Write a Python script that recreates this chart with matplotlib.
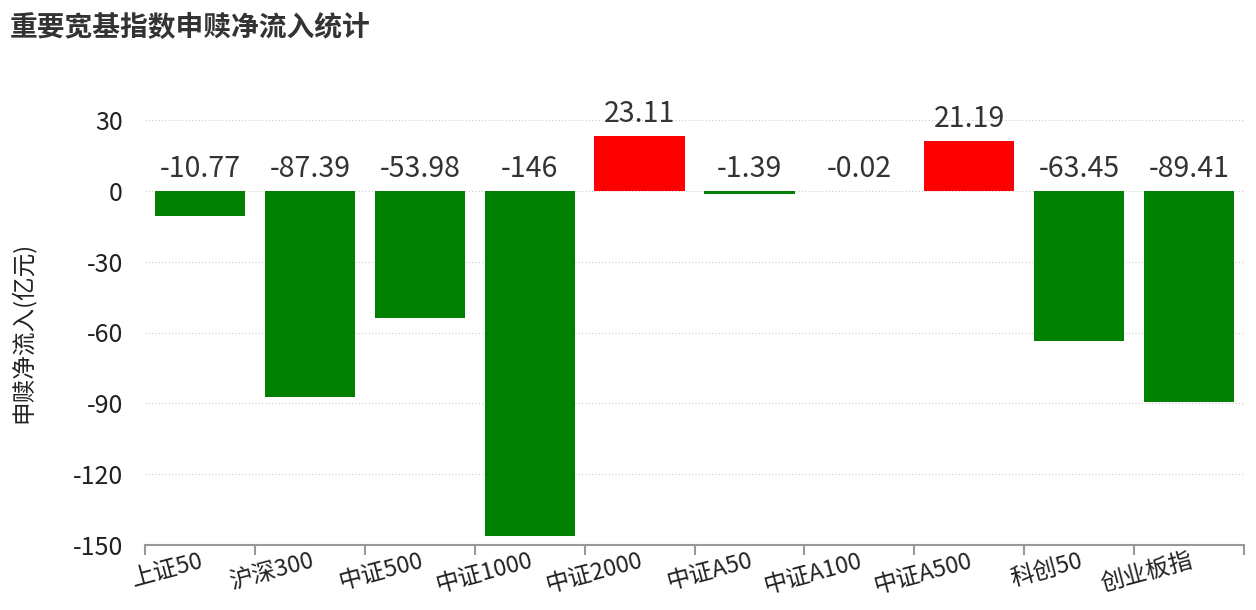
import matplotlib
matplotlib.use("Agg")
import matplotlib.pyplot as plt
import numpy as np

plt.rcParams['font.family'] = ['Noto Sans CJK SC', 'DejaVu Sans']
plt.rcParams['axes.unicode_minus'] = False

categories = ["上证50", "沪深300", "中证500", "中证1000", "中证2000", "中证A50", "中证A100", "中证A500", "科创50", "创业板指"]
values = [-10.77, -87.39, -53.98, -146, 23.11, -1.39, -0.02, 21.19, -63.45, -89.41]
labels = ["-10.77", "-87.39", "-53.98", "-146", "23.11", "-1.39", "-0.02", "21.19", "-63.45", "-89.41"]
yticks = [30, 0, -30, -60, -90, -120, -150]

fig = plt.figure(figsize=(12.56, 6.10), dpi=100)
ax = fig.add_axes([145/1256, 1-545/610, (1244-145)/1256, (545-120)/610])

x = np.arange(len(categories))
colors = ['#ff0000' if v > 0 else '#008000' for v in values]
ax.bar(x, values, width=0.82, color=colors, zorder=3)

for xi, v, lab in zip(x, values, labels):
    ypos = max(v, 0)
    ax.text(xi, ypos + 3, lab, ha='center', va='bottom', fontsize=20.5, color='#333333', clip_on=False)

ax.set_xlim(-0.5, len(categories) - 0.5)
ax.set_ylim(-150, 30)
ax.set_yticks(yticks)
ax.set_yticklabels([str(t) for t in yticks], fontsize=18, color='#222222')
ax.yaxis.grid(True, linestyle=(0, (1, 2)), color='#cccccc', linewidth=0.8, zorder=0)
ax.tick_params(axis='y', length=0, pad=16)

ax.set_xticks(np.arange(-0.5, len(categories), 1.0), minor=False)
ax.set_xticklabels([''] * (len(categories) + 1))
ax.set_xticks(x, minor=True)
ax.set_xticklabels(categories, minor=True, rotation=15, ha='right', va='top', rotation_mode='anchor', fontsize=17, color='#222222')
ax.tick_params(axis='x', which='major', length=7, width=1.5, color='#999999', direction='out')
ax.tick_params(axis='x', which='minor', length=0, pad=3)

for s in ['top', 'right', 'left']:
    ax.spines[s].set_visible(False)
ax.spines['bottom'].set_color('#999999')
ax.spines['bottom'].set_linewidth(1.5)

ax.set_ylabel("申赎净流入(亿元)", fontsize=17, color='#222222')
ax.yaxis.set_label_coords((35 - 145) / (1244 - 145), 0.5)

fig.text(10/1256, 1-28/610, "重要宽基指数申赎净流入统计", fontsize=20, fontweight='bold', color='#333333', ha='left', va='center')

fig.savefig("out.png", dpi=100)
